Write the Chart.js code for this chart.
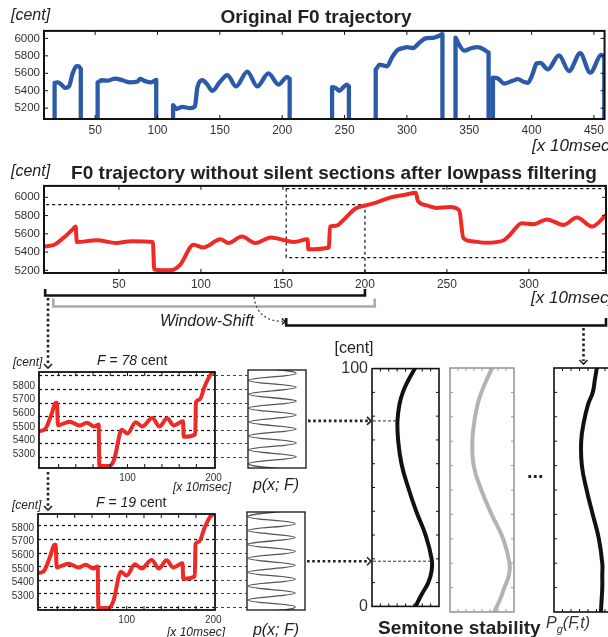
<!DOCTYPE html>
<html>
<head>
<meta charset="utf-8">
<script src="https://cdn.jsdelivr.net/npm/chart.js@4.4.1/dist/chart.umd.min.js"></script>
<style>
body { margin: 0; width: 608px; height: 637px; overflow: hidden; background: #fff; position: relative;
       font-family: "Liberation Sans", Arial, sans-serif; color: #222; }
canvas { position: absolute; }
.t { position: absolute; line-height: 1; white-space: nowrap; transform: translateY(-50%); }
.m { transform: translate(-50%, -50%); }
.i { font-style: italic; }
.b { font-weight: bold; }
</style>
</head>
<body>
<canvas id="p1" width="608" height="120" style="left:0;top:20px"></canvas>
<canvas id="p2" width="608" height="120" style="left:0;top:175px"></canvas>
<canvas id="p3" width="226" height="120" style="left:0;top:362px"></canvas>
<canvas id="q3" width="75" height="120" style="left:240px;top:362px"></canvas>
<canvas id="p4" width="226" height="120" style="left:0;top:504px"></canvas>
<canvas id="q4" width="75" height="120" style="left:240px;top:504px"></canvas>
<canvas id="s1" width="115" height="265" style="left:330px;top:355px"></canvas>
<canvas id="s2" width="75" height="265" style="left:445px;top:355px"></canvas>
<canvas id="s3" width="80" height="265" style="left:549px;top:355px"></canvas>
<canvas id="ov" width="608" height="637" style="left:0;top:0"></canvas>

<div class="t i" style="left:11px;top:15px;font-size:16px">[cent]</div>
<div class="t m b" style="left:316px;top:16px;font-size:19px">Original F0 trajectory</div>
<div class="t i" style="left:532px;top:145px;font-size:17px">[x 10msec]</div>
<div class="t i" style="left:11px;top:171px;font-size:16px">[cent]</div>
<div class="t m b" style="left:334px;top:172px;font-size:19px">F0 trajectory without silent sections after lowpass filtering</div>
<div class="t i" style="left:531px;top:297px;font-size:17px">[x 10msec]</div>
<div class="t m i" style="left:207px;top:321px;font-size:16px">Window-Shift</div>

<div class="t i" style="left:13px;top:362px;font-size:12px">[cent]</div>
<div class="t" style="left:97px;top:360px;font-size:14px"><i>F</i> = <i>78</i> cent</div>
<div class="t m i" style="left:202px;top:487px;font-size:12px">[x 10msec]</div>
<div class="t m i" style="left:276px;top:485px;font-size:16px">p(x; F)</div>
<div class="t i" style="left:12px;top:505px;font-size:12px">[cent]</div>
<div class="t" style="left:96px;top:502px;font-size:14px"><i>F</i> = <i>19</i> cent</div>
<div class="t m i" style="left:196px;top:632px;font-size:12px">[x 10msec]</div>
<div class="t m i" style="left:276px;top:630px;font-size:16px">p(x; F)</div>

<div class="t m" style="left:354px;top:348px;font-size:16px">[cent]</div>
<div class="b" style="position:absolute;left:527px;top:461px;font-size:20px;line-height:1">...</div>
<div class="t b" style="left:378px;top:627px;font-size:19px">Semitone stability</div>
<div class="t i" style="left:546px;top:625px;font-size:16px;color:#333">P<sub style="font-size:11px">g</sub>(F,t)</div>

<script>
const FONT = '"Liberation Sans", Arial, sans-serif';
Chart.defaults.font.family = FONT;

// original F0 (null = break between voiced sections, 5000 = drop to silence)
const rawX = [17.5, 17.5, 20, 23, 26, 29, 32, 35, 37, 38.5, 38.5, null,
  52, 52, 55, 60, 66, 72, 78, 84, 86, 90, 95, 99, 99, null,
  112.5, 112.5, 115, 120, 126, 130, 132, 136, 140, 144, 150, 156, 163, 172, 180, 189, 197, 204, 206, 206, null,
  240, 240, 243, 246, 249, 252, 253.5, 253.5, null,
  275, 275, 278, 281, 284, 288, 292, 297, 300, 305, 310, 315, 322, 326, 328.5, 328.5, null,
  339, 339, 341, 346, 352, 357, 362, 365.5, 365.5, null,
  369, 369, 373, 378, 384, 389, 394, 397, 401, 404, 407, 413, 422, 430, 439, 447, 456, 458.3, 458.3];
const rawY = [5000, 5490, 5495, 5470, 5432, 5450, 5600, 5683, 5680, 5650, 5000, null,
  5000, 5495, 5520, 5515, 5540, 5520, 5495, 5505, 5535, 5510, 5495, 5525, 5000, null,
  5000, 5235, 5190, 5215, 5200, 5220, 5440, 5520, 5470, 5400, 5500, 5580, 5450, 5620, 5450, 5600, 5470, 5560, 5540, 5000, null,
  5000, 5440, 5430, 5400, 5440, 5470, 5450, 5000, null,
  5000, 5646, 5700, 5690, 5680, 5780, 5860, 5890, 5900, 5890, 5950, 6000, 6010, 6030, 6050, 5000, null,
  5000, 6010, 5950, 5860, 5890, 5900, 5870, 5840, 5000, null,
  5000, 5550, 5540, 5483, 5510, 5532, 5500, 5490, 5600, 5715, 5720, 5645, 5805, 5626, 5830, 5607, 5810, 5790, 5000];

// lowpass-filtered F0 without silent sections
const lpX = [4, 10.6, 17.7, 22.4, 23.6, 24.3, 36.6, 48.3, 57.8, 70.7, 71.5, 81.4, 87.3, 95.5, 101.4, 112, 116.7, 125,
  133.2, 142.7, 151, 156.8, 165, 165.5, 178, 178.7, 182.8, 186.3, 194.5, 200.4, 206.3, 215.8, 225.2, 231, 232.3,
  237.6, 243.7, 251.8, 257.5, 260, 265, 274, 284.4, 288.5, 295.7, 302.8, 311, 321, 329.3, 338.5, 347];
const lpY = [5460, 5480, 5580, 5660, 5680, 5510, 5530, 5500, 5520, 5510, 5210, 5200, 5260, 5480, 5450, 5540, 5500, 5570,
  5500, 5560, 5530, 5510, 5540, 5430, 5450, 5680, 5690, 5740, 5880, 5910, 5940, 6000, 6030, 6050, 5960,
  5911, 5883, 5893, 5858, 5555, 5520, 5502, 5527, 5591, 5716, 5705, 5758, 5698, 5779, 5680, 5805];

// analysis window (first 200 frames)
const winX = [-3, 3.8, 11.5, 16.5, 18, 19.2, 32.6, 44.2, 52.6, 61.5, 66.5, 67.3, 78.8, 84.5, 93.4, 100, 109.5, 117.2,
  128.8, 137.2, 146, 153.8, 164.5, 165.3, 178.7, 179.5, 183.8, 189.5, 196, 200, 203];
const winY = [5469, 5479, 5588, 5676, 5676, 5510, 5538, 5510, 5529, 5502, 5517, 5212, 5212, 5260, 5479, 5450, 5533, 5502,
  5564, 5502, 5562, 5510, 5541, 5426, 5445, 5683, 5700, 5795, 5879, 5907, 5950];

const windowStart = [5, 10, 152];
const windowEnd = [200, 206, 347];

// semitone grid with offset F: p(x;F) peaks (1) and troughs (0)
const grid78 = [5278, 5378, 5478, 5578, 5678, 5778, 5878];
const grid19 = [5219, 5319, 5419, 5519, 5619, 5719, 5819];
const wave78Y = [5178, 5228, 5278, 5328, 5378, 5428, 5478, 5528, 5578, 5628, 5678, 5728, 5778, 5828, 5878, 5928];
const wave78P = [1, 0, 1, 0, 1, 0, 1, 0, 1, 0, 1, 0, 1, 0, 1, 0];
const wave19Y = [5169, 5219, 5269, 5319, 5369, 5419, 5469, 5519, 5569, 5619, 5669, 5719, 5769, 5819, 5869, 5919];
const wave19P = [0, 1, 0, 1, 0, 1, 0, 1, 0, 1, 0, 1, 0, 1, 0, 1];

// semitone stability Pg(F,t)
const stabF = [0, 5, 10, 15, 20, 30, 40, 50, 60, 70, 78, 85, 90, 95, 100];
const stab1 = [0.65, 0.74, 0.84, 0.89, 0.89, 0.80, 0.66, 0.54, 0.44, 0.39, 0.38, 0.41, 0.46, 0.54, 0.64];
const stab2 = [0.69, 0.78, 0.85, 0.92, 0.93, 0.83, 0.65, 0.49, 0.37, 0.35, 0.38, 0.43, 0.49, 0.57, 0.66];
const stab3 = [0.69, 0.70, 0.71, 0.71, 0.71, 0.66, 0.57, 0.48, 0.41, 0.40, 0.44, 0.50, 0.57, 0.60, 0.63];
const arrowF = [78, 19];

const ticks1X = [50, 100, 150, 200, 250, 300, 350, 400, 450];
const ticks1Y = [5200, 5400, 5600, 5800, 6000];
const ticks2X = [50, 100, 150, 200, 250, 300];
const ticksWinX = [100, 200];
const ticksWinY = [5300, 5400, 5500, 5600, 5700, 5800];
const minorWinX = [20, 40, 60, 80, 100, 120, 140, 160, 180];
const ticksStab = [0, 100];

const RED = '#ee2a26', BLUE = '#2b5ba8';

const pts = (xs, ys) => xs.map((x, i) => ({ x: x, y: ys[i] }));

const framePlugin = {
    id: 'frame',
    beforeDatasetsDraw(chart, args, o) {
        const { ctx, chartArea: a, scales: { x, y } } = chart;
        ctx.save();
        ctx.beginPath();
        ctx.rect(a.left, a.top, a.right - a.left, a.bottom - a.top);
        ctx.clip();
        ctx.setLineDash([3, 3]);
        ctx.strokeStyle = '#111';
        ctx.lineWidth = 1.2;
        (o.hLines || []).forEach(v => {
            const py = Math.round(y.getPixelForValue(v)) + 0.5;
            ctx.beginPath(); ctx.moveTo(a.left, py); ctx.lineTo(a.right, py); ctx.stroke();
        });
        (o.boxes || []).forEach(b => {
            const x0 = x.getPixelForValue(b[0]), x1 = x.getPixelForValue(b[1]);
            const y0 = y.getPixelForValue(b[2]), y1 = y.getPixelForValue(b[3]);
            ctx.strokeRect(x0, y1, x1 - x0, y0 - y1);
        });
        ctx.restore();
    },
    afterDatasetsDraw(chart, args, o) {
        const { ctx, chartArea: a, scales: { x, y } } = chart;
        const t = o.tick || 4;
        ctx.save();
        ctx.strokeStyle = o.color || '#111';
        ctx.lineWidth = o.tickWidth || 1;
        ctx.beginPath();
        (o.xMarks || []).forEach(v => {
            const px = x.getPixelForValue(v);
            ctx.moveTo(px, a.top); ctx.lineTo(px, a.top + t);
            ctx.moveTo(px, a.bottom); ctx.lineTo(px, a.bottom - t);
        });
        (o.yMarks || []).forEach(v => {
            const py = y.getPixelForValue(v);
            ctx.moveTo(a.left, py); ctx.lineTo(a.left + t, py);
            ctx.moveTo(a.right, py); ctx.lineTo(a.right - t, py);
        });
        ctx.stroke();
        ctx.lineWidth = o.width || 2;
        ctx.strokeRect(a.left, a.top, a.right - a.left, a.bottom - a.top);
        ctx.restore();
    }
};

function axis(min, max, ticks, size, fontSize, show) {
    return {
        type: 'linear', min: min, max: max, display: show,
        grid: { display: false, drawTicks: false }, border: { display: false },
        ticks: { font: { size: fontSize }, color: '#333', padding: 4, maxRotation: 0, autoSkip: false,
                 callback: v => String(v) },
        afterBuildTicks: s => { s.ticks = ticks.map(v => ({ value: v })); },
        afterFit: s => {
            if (!show) return;
            if (s.isHorizontal()) s.height = size; else s.width = size;
        }
    };
}

function makeChart(id, datasets, o) {
    return new Chart(document.getElementById(id), {
        type: 'line',
        data: { datasets: datasets },
        options: {
            responsive: false, animation: false, events: [],
            indexAxis: o.indexAxis || 'x',
            layout: { padding: o.pad },
            elements: { point: { radius: 0 } },
            plugins: { legend: { display: false }, tooltip: { enabled: false }, frame: o.frame },
            scales: { x: o.x, y: o.y }
        },
        plugins: [framePlugin]
    });
}

// x-indexed traces use monotone curves, the vertical curves use bezier tension
function line(data, color, width, vertical) {
    const ds = { data: data, borderColor: color, borderWidth: width, pointRadius: 0, fill: false,
                 spanGaps: false, clip: 0, borderCapStyle: 'round', borderJoinStyle: 'round' };
    if (vertical) { ds.indexAxis = 'y'; ds.tension = 0.45; }
    else ds.cubicInterpolationMode = 'monotone';
    return ds;
}

// top: original F0
const p1 = makeChart('p1', [line(pts(rawX, rawY), BLUE, 4.3)], {
    pad: { top: 9, right: 2, left: 0, bottom: 0 },
    x: axis(9, 458.5, ticks1X, 21, 12, true),
    y: axis(5076, 6086, ticks1Y, 44, 11.5, true),
    frame: { xMarks: ticks1X, yMarks: ticks1Y, width: 2, tick: 4 }
});

// lowpass filtered
const p2 = makeChart('p2', [line(pts(lpX, lpY), RED, 4)], {
    pad: { top: 8, right: 2, left: 0, bottom: 0 },
    x: axis(4.3, 347, ticks2X, 22, 12, true),
    y: axis(5171, 6125, ticks1Y, 44, 11.5, true),
    frame: { xMarks: ticks2X, yMarks: ticks1Y, width: 2, tick: 4,
             boxes: [[-20, windowEnd[0], 5000, 5920], [windowStart[2], 420, 5340, 6096]] }
});

// windows with semitone grid
const p3 = makeChart('p3', [line(pts(winX, winY), RED, 4)], {
    pad: { top: 8, right: 9, left: 0, bottom: 0 },
    x: axis(-2.8, 201.6, ticksWinX, 14, 10, true),
    y: axis(5197, 5903, ticksWinY, 39, 10, true),
    frame: { xMarks: minorWinX, hLines: grid78, width: 1.8, tick: 4 }
});
const q3 = makeChart('q3', [line(pts(wave78P, wave78Y), '#555', 1.3, true)], {
    indexAxis: 'y',
    pad: { top: 8, right: 9, left: 8, bottom: 14 },
    x: axis(-0.02, 1.21, [], 0, 10, false),
    y: axis(5197, 5903, [], 0, 10, false),
    frame: { width: 1.3 }
});
const p4 = makeChart('p4', [line(pts(winX, winY), RED, 4)], {
    pad: { top: 8, right: 11, left: 0, bottom: 0 },
    x: axis(-2.4, 202, ticksWinX, 14, 10, true),
    y: axis(5197, 5903, ticksWinY, 38, 10, true),
    frame: { xMarks: minorWinX, hLines: grid19, width: 1.8, tick: 4 }
});
const q4 = makeChart('q4', [line(pts(wave19P, wave19Y), '#555', 1.3, true)], {
    indexAxis: 'y',
    pad: { top: 8, right: 10, left: 7, bottom: 14 },
    x: axis(-0.02, 1.21, [], 0, 10, false),
    y: axis(5197, 5903, [], 0, 10, false),
    frame: { width: 1.3 }
});

// semitone stability
const stabMarksX = [0.125, 0.25, 0.375, 0.5, 0.625, 0.75, 0.875];
const stabMarksY = [10, 20, 30, 40, 50, 60, 70, 80, 90];
function stabChart(id, xs, color, frameColor, pad, showY) {
    return makeChart(id, [line(pts(xs, stabF), color, 4, true)], {
        indexAxis: 'y',
        pad: pad,
        x: axis(0, 1, [], 0, 10, false),
        y: axis(0, 100, ticksStab, 42, 16, showY),
        frame: { xMarks: stabMarksX, yMarks: stabMarksY, width: 1.6, tick: 3, color: frameColor }
    });
}
const s1 = stabChart('s1', stab1, '#111', '#111', { top: 13, right: 6, left: 0, bottom: 8 }, true);
const s2 = stabChart('s2', stab2, '#b3b3b3', '#999', { top: 13, right: 6, left: 5, bottom: 8 }, false);
const s3 = stabChart('s3', stab3, '#111', '#111', { top: 13, right: 7, left: 5, bottom: 8 }, false);

// ---- overlay: brackets, arrows, connectors ----
const ov = document.getElementById('ov').getContext('2d');
const px = (c, v) => c.canvas.offsetLeft + c.scales.x.getPixelForValue(v);
const py = (c, v) => c.canvas.offsetTop + c.scales.y.getPixelForValue(v);

function seg(x0, y0, x1, y1, color, w, dash) {
    ov.save();
    ov.strokeStyle = color; ov.lineWidth = w; ov.setLineDash(dash || []);
    ov.beginPath(); ov.moveTo(x0, y0); ov.lineTo(x1, y1); ov.stroke();
    ov.restore();
}
function bracket(x0, x1, y, h, color) {
    ov.save();
    ov.strokeStyle = color; ov.lineWidth = 2.6; ov.lineJoin = 'miter';
    ov.beginPath(); ov.moveTo(x0, y - h); ov.lineTo(x0, y); ov.lineTo(x1, y); ov.lineTo(x1, y - h); ov.stroke();
    ov.restore();
}
function chevron(x, y, dir, s) {
    ov.save();
    ov.strokeStyle = '#222'; ov.lineWidth = 1.6;
    ov.beginPath();
    if (dir === 'down') { ov.moveTo(x - s, y - s); ov.lineTo(x, y); ov.lineTo(x + s, y - s); }
    else { ov.moveTo(x - s, y - s); ov.lineTo(x, y); ov.lineTo(x - s, y + s); }
    ov.stroke();
    ov.restore();
}

bracket(px(p2, windowStart[0]), px(p2, windowEnd[0]), 295.5, 6.5, '#111');
bracket(px(p2, windowStart[1]), px(p2, windowEnd[1]), 306.5, 8, '#aaa');
bracket(px(p2, windowStart[2]), Math.min(px(p2, windowEnd[2]), 606.5), 325.5, 7.5, '#111');

// curved window-shift arrow
ov.save();
ov.strokeStyle = '#444'; ov.lineWidth = 1.3; ov.setLineDash([2, 2.5]);
ov.beginPath(); ov.moveTo(254, 297); ov.quadraticCurveTo(257, 321, 283, 321.5); ov.stroke();
ov.restore();
chevron(285, 321.5, 'right', 3);

// vertical dotted arrows
seg(48, 298, 48, 365, '#222', 2.6, [2.6, 2.6]);
chevron(48, 368, 'down', 4);
seg(48, 472, 48, 507, '#222', 2.6, [2.6, 2.6]);
chevron(48, 510, 'down', 4);
seg(583.5, 328, 583.5, 361, '#222', 2.6, [2.6, 2.6]);
chevron(583.5, 364, 'down', 4);

// grid connectors between window plots and p(x;F)
[[p3, q3, grid78], [p4, q4, grid19]].forEach(([c, q, g]) => {
    g.forEach(v => {
        const y = Math.round(py(c, v)) + 0.5;
        seg(c.canvas.offsetLeft + c.chartArea.right, y, q.canvas.offsetLeft + q.chartArea.left, y, '#444', 1, [3, 3]);
    });
});

// arrows into semitone stability
[[q3, arrowF[0]], [q4, arrowF[1]]].forEach(([q, f]) => {
    const y = py(s1, f);
    const x0 = q.canvas.offsetLeft + q.chartArea.right + 2;
    const x1 = s1.canvas.offsetLeft + s1.chartArea.left;
    seg(x0, y, x1 - 3, y, '#222', 2.6, [2.6, 2.6]);
    chevron(x1 - 1, y, 'right', 4);
    let k = 0;
    stabF.forEach((v, i) => { if (Math.abs(v - f) < Math.abs(stabF[k] - f)) k = i; });
    seg(x1 + 1, y, px(s1, stab1[k]), y, '#333', 1, [3, 2]);
});
</script>
</body>
</html>
